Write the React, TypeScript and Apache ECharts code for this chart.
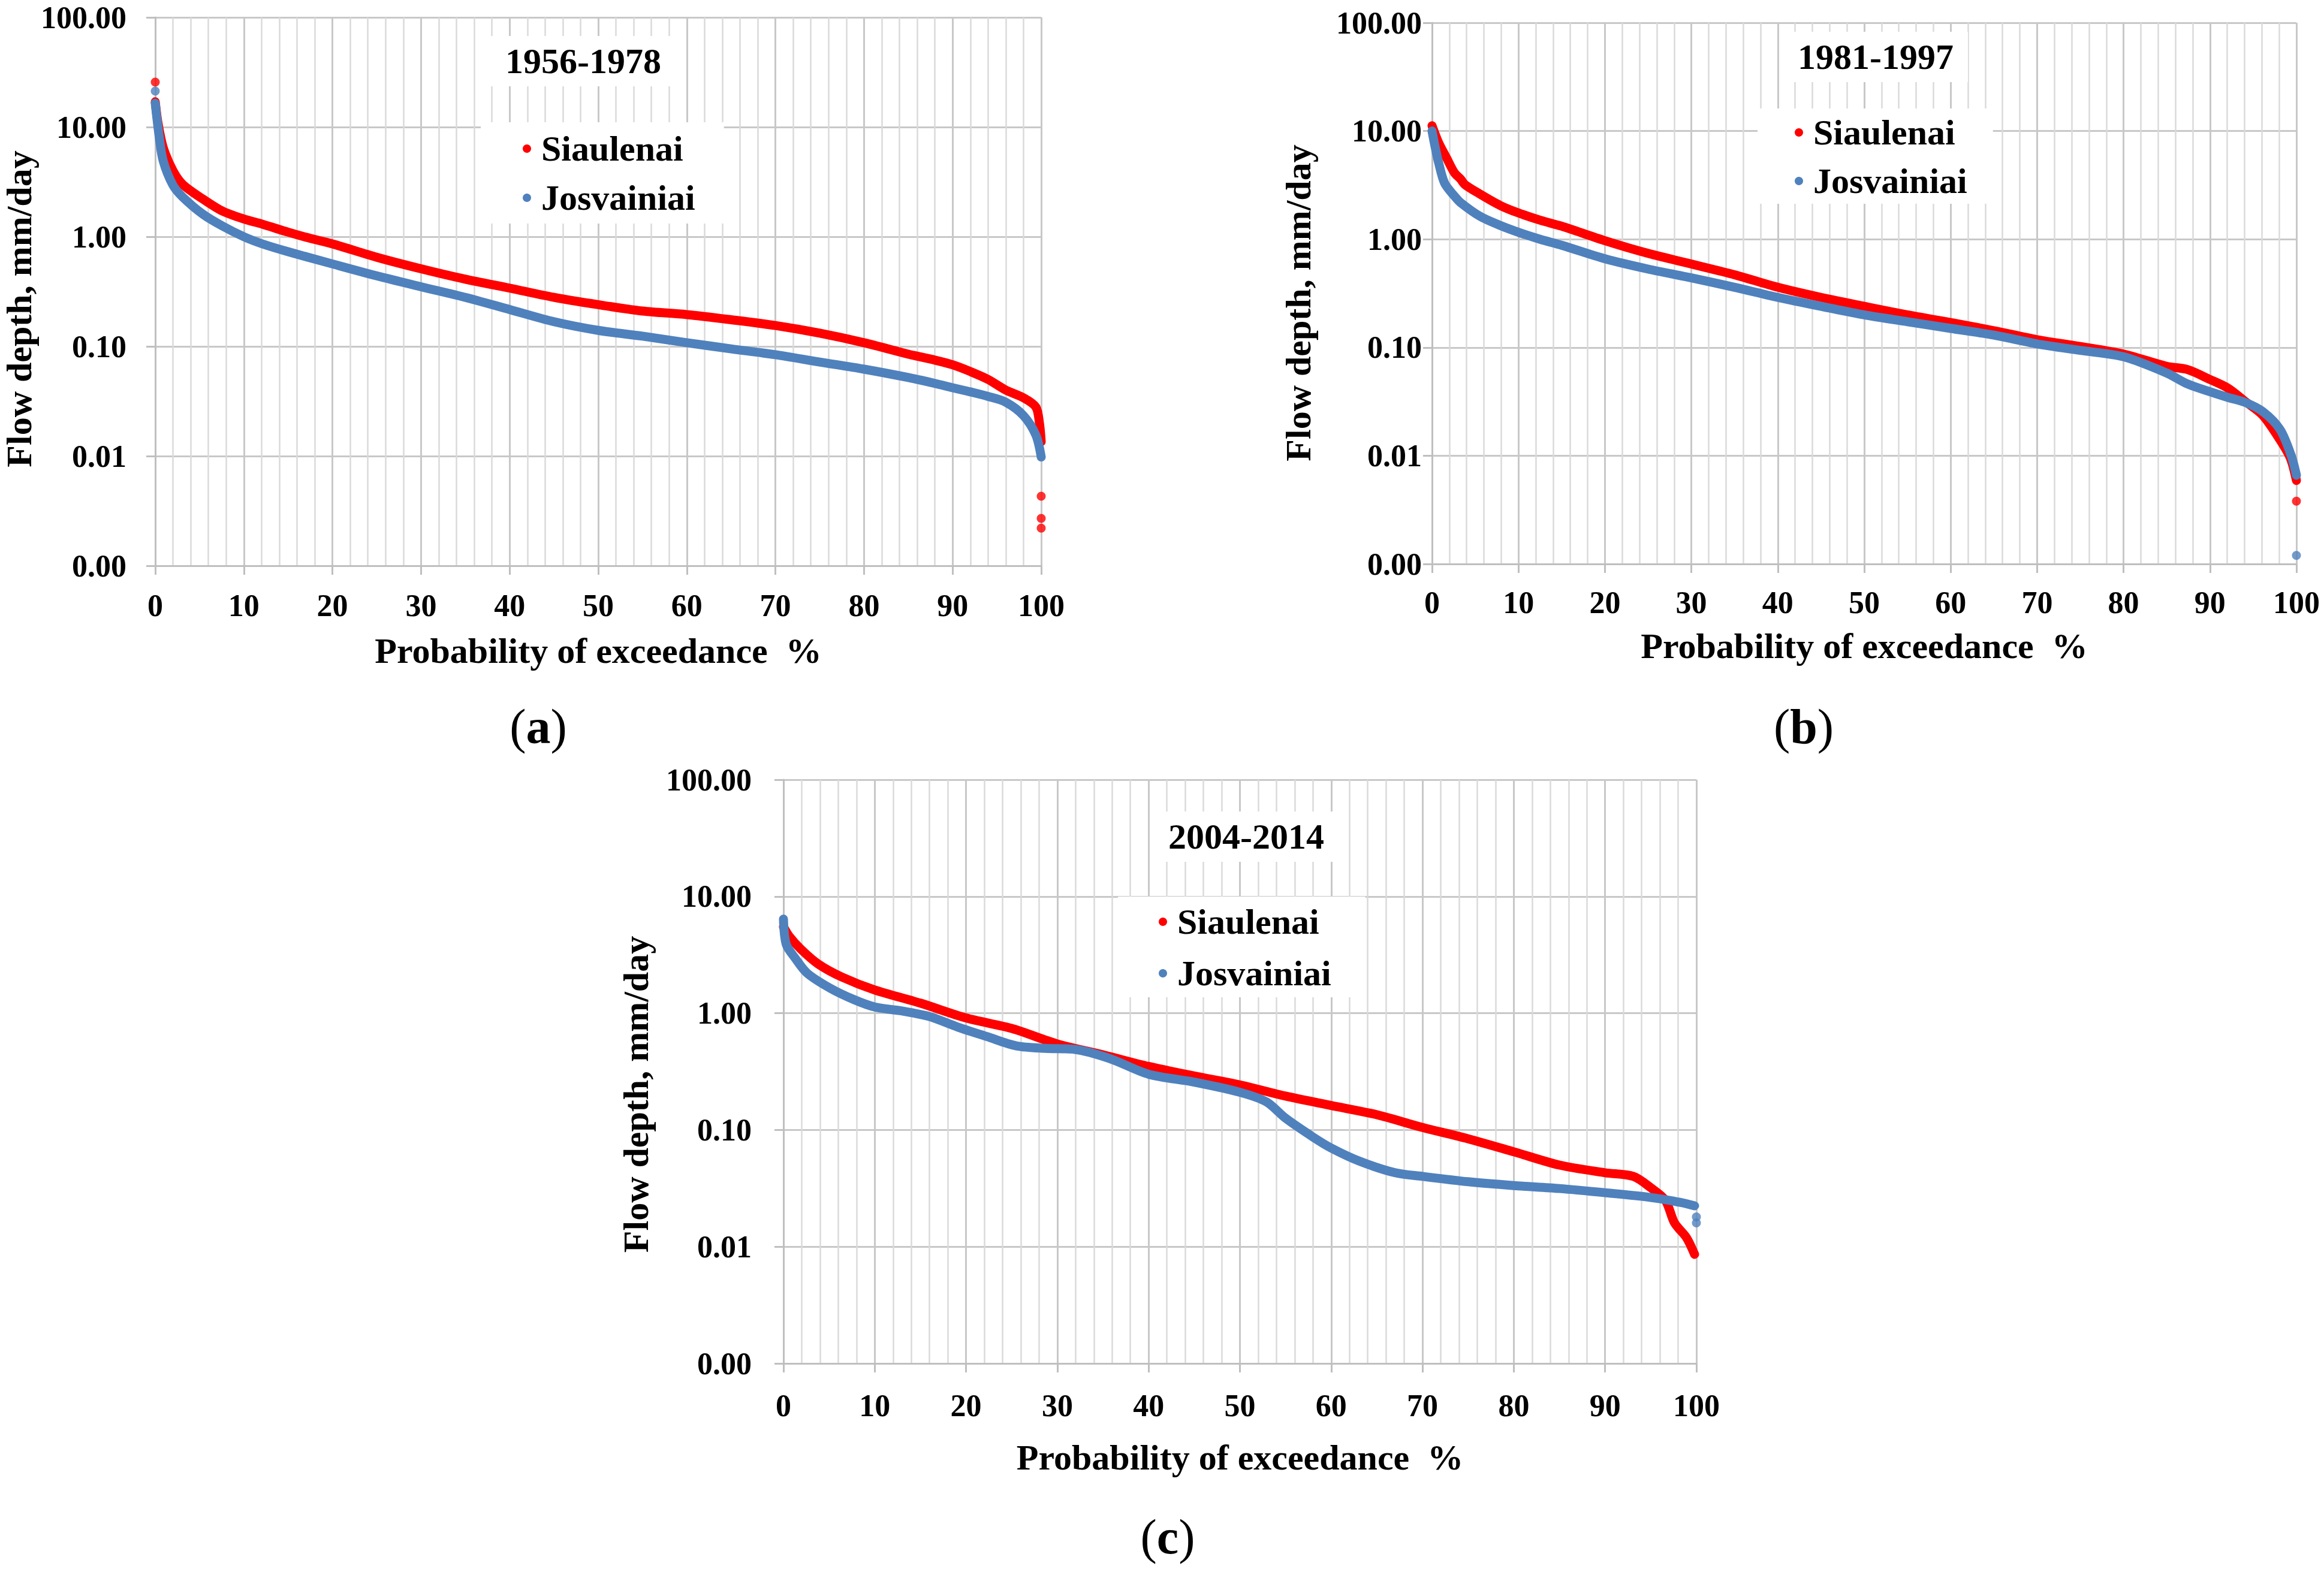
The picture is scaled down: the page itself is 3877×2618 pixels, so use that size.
import React, { useEffect, useRef } from "react";
import * as echarts from "echarts";

const FONT = '"Liberation Serif", "Times New Roman", Times, serif';
const RED = "#ff0000";
const BLUE = "#4f81bd";

const stations = ["Siaulenai", "Josvainiai"];
const periods = ["1956-1978", "1981-1997", "2004-2014"];
const letters = ["a", "b", "c"];
const xAxisName = "Probability of exceedance  %";
const yAxisName = "Flow depth, mm/day";

// ---- (a) 1956-1978 ----
const siaulenai1956: [number, number][] = [
  [0, 17], [0.3, 11], [0.9, 6.5], [2.0, 4.0], [3.1, 3.0], [5.4, 2.2], [7.6, 1.71],
  [10, 1.45], [12.1, 1.3], [15, 1.1], [17, 0.99], [20, 0.86], [25, 0.65], [30, 0.51],
  [35, 0.41], [40, 0.34], [45, 0.28], [50, 0.24], [55, 0.21], [60, 0.195], [65, 0.175],
  [70, 0.155], [75, 0.132], [80, 0.108], [85, 0.085], [88, 0.075], [90, 0.068], [92, 0.059],
  [94, 0.05], [96, 0.04], [98, 0.034], [99.4, 0.028], [99.8, 0.02], [100, 0.0135],
];
const siaulenai1956Dots: [number, number][] = [[0, 25.7], [100, 0.0043], [100, 0.0027], [100, 0.0022]];
const josvainiai1956: [number, number][] = [
  [0, 16.5], [0.45, 8.1], [0.9, 4.9], [2.0, 2.95], [3.1, 2.3], [5.4, 1.6], [7.6, 1.25],
  [10, 1.0], [12.1, 0.86], [15, 0.73], [20, 0.565], [25, 0.44], [30, 0.35], [35, 0.28],
  [40, 0.217], [45, 0.168], [50, 0.14], [55, 0.124], [60, 0.108], [65, 0.095], [70, 0.084],
  [75, 0.072], [80, 0.062], [85, 0.052], [88, 0.046], [90, 0.042], [92, 0.0385], [94, 0.035],
  [96, 0.031], [98, 0.0234], [99.4, 0.0155], [100, 0.0098],
];
const josvainiai1956Dots: [number, number][] = [[0, 21.3]];

// ---- (b) 1981-1997 ----
const siaulenai1981: [number, number][] = [
  [0, 11.2], [0.76, 7.8], [1.7, 5.6], [2.6, 4.1], [3.3, 3.6], [3.8, 3.2], [5.6, 2.6],
  [7.9, 2.05], [10, 1.75], [12.5, 1.5], [15, 1.32], [20, 0.97], [25, 0.74], [30, 0.59],
  [35, 0.47], [40, 0.36], [45, 0.29], [50, 0.24], [55, 0.2], [60, 0.17], [65, 0.143],
  [70, 0.118], [75, 0.102], [80, 0.087], [85, 0.067], [87.4, 0.0625], [90, 0.0506],
  [92.1, 0.042], [94.1, 0.0316], [96.1, 0.0236], [98.1, 0.014], [99.3, 0.0095], [100, 0.0059],
];
const siaulenai1981Dots: [number, number][] = [[100, 0.0038]];
const josvainiai1981: [number, number][] = [
  [0, 10.0], [0.3, 7.5], [0.76, 5.1], [1.45, 3.3], [2.6, 2.5], [3.3, 2.18], [5.6, 1.62],
  [7.9, 1.34], [10, 1.16], [12.5, 1.0], [15, 0.88], [20, 0.66], [25, 0.53], [30, 0.44],
  [35, 0.36], [40, 0.29], [45, 0.24], [50, 0.2], [55, 0.173], [60, 0.15], [65, 0.13],
  [70, 0.108], [75, 0.094], [80, 0.082], [85, 0.058], [87.4, 0.046], [90, 0.039],
  [92.1, 0.0345], [94.1, 0.031], [96.1, 0.0256], [98.1, 0.0175], [99.4, 0.01], [100, 0.0066],
];
const josvainiai1981Dots: [number, number][] = [[100, 0.0012]];

// ---- (c) 2004-2014 ----
const siaulenai2004: [number, number][] = [
  [0, 5.5], [0.6, 4.6], [1.9, 3.54], [3.8, 2.64], [6.4, 2.04], [10, 1.58], [15, 1.22],
  [20, 0.91], [25, 0.74], [30, 0.545], [35, 0.44], [40, 0.35], [45, 0.29], [50, 0.243],
  [55, 0.195], [60, 0.162], [65, 0.135], [70, 0.105], [75, 0.084], [80, 0.065], [85, 0.05],
  [90, 0.043], [93.1, 0.04], [95, 0.032], [96.6, 0.025], [97.6, 0.016], [98.9, 0.012],
  [99.8, 0.0086],
];
const siaulenai2004Dots: [number, number][] = [];
const josvainiai2004: [number, number][] = [
  [0, 6.4], [0.3, 3.9], [1.3, 2.95], [2.6, 2.2], [5.1, 1.64], [7.7, 1.31], [10, 1.13],
  [12.8, 1.05], [15.9, 0.94], [19.1, 0.76], [22.3, 0.63], [25.5, 0.525], [28.7, 0.5],
  [31.9, 0.49], [35.7, 0.41], [40, 0.3], [45, 0.257], [50, 0.21], [52.9, 0.174], [55, 0.126],
  [58, 0.087], [60, 0.07], [63.1, 0.054], [67, 0.043], [70, 0.04], [75, 0.036], [80, 0.0334],
  [85, 0.0315], [90, 0.029], [95, 0.0264], [98.2, 0.024], [99.8, 0.0224],
];
const josvainiai2004Dots: [number, number][] = [[100, 0.018], [100, 0.016]];

const siaulenaiSeries = [siaulenai1956, siaulenai1981, siaulenai2004];
const siaulenaiDots = [siaulenai1956Dots, siaulenai1981Dots, siaulenai2004Dots];
const josvainiaiSeries = [josvainiai1956, josvainiai1981, josvainiai2004];
const josvainiaiDots = [josvainiai1956Dots, josvainiai1981Dots, josvainiai2004Dots];

// layout (pixels)
const layouts = [
  { left: 259, top: 29, width: 1478, height: 915, yNameGap: 197, yNameShift: 58, yLabelMargin: 48,
    xLabelMargin: 40, xNameGap: 112, titleX: 973, titleY: 102, legendLeft: 802, legendTop: 204,
    legendPad: [14, 48, 13, 70], legendGap: 22, letterX: 898, letterY: 1212 },
  { left: 2389, top: 38, width: 1442, height: 903, yNameGap: 193, yNameShift: 32, yLabelMargin: 17,
    xLabelMargin: 38, xNameGap: 107, titleX: 3129, titleY: 95, legendLeft: 2932, legendTop: 181,
    legendPad: [10, 43, 8, 62], legendGap: 21, letterX: 3009, letterY: 1212 },
  { left: 1307, top: 1301, width: 1523, height: 974, yNameGap: 216, yNameShift: 76, yLabelMargin: 53,
    xLabelMargin: 44, xNameGap: 127, titleX: 2079, titleY: 1396, legendLeft: 1865, legendTop: 1496,
    legendPad: [12, 57, 10, 68], legendGap: 26, letterX: 1948, letterY: 2564 },
];

function buildOption() {
  const grid: any[] = [];
  const xAxis: any[] = [];
  const yAxis: any[] = [];
  const legend: any[] = [];
  const series: any[] = [];
  const graphic: any[] = [];
  const axisColor = "#bfbfbf";
  const bold = { fontFamily: FONT, fontWeight: "bold", color: "#000" };

  layouts.forEach((L, i) => {
    grid.push({ left: L.left, top: L.top, width: L.width, height: L.height, show: false });
    xAxis.push({
      type: "value", gridIndex: i, min: 0, max: 100, interval: 10,
      name: xAxisName, nameLocation: "middle", nameGap: L.xNameGap,
      nameTextStyle: { ...bold, fontSize: 60 },
      axisLine: { show: true, lineStyle: { color: axisColor, width: 3 } },
      axisTick: { show: true, length: 15, lineStyle: { color: axisColor, width: 3 } },
      axisLabel: { ...bold, fontSize: 52, margin: L.xLabelMargin },
      splitLine: { show: true, lineStyle: { color: "#c8c8c8", width: 3 } },
      minorTick: { show: false, splitNumber: 5 },
      minorSplitLine: { show: true, lineStyle: { color: "#dadada", width: 2.5 } },
    });
    yAxis.push({
      type: "log", logBase: 10, gridIndex: i, min: 0.001, max: 100,
      name: yAxisName, nameLocation: "middle", nameGap: L.yNameGap, nameRotate: 90,
      nameTextStyle: { ...bold, fontSize: 60, padding: [0, L.yNameShift, 0, 0] },
      axisLine: { show: true, lineStyle: { color: axisColor, width: 3 } },
      axisTick: { show: true, length: 15, lineStyle: { color: axisColor, width: 3 } },
      axisLabel: { ...bold, fontSize: 52, margin: L.yLabelMargin, formatter: (v: number) => Number(v).toFixed(2) },
      splitLine: { show: true, lineStyle: { color: "#c8c8c8", width: 3 } },
    });
    legend.push({
      orient: "vertical", left: L.legendLeft, top: L.legendTop, padding: L.legendPad,
      itemGap: L.legendGap, itemWidth: 14, itemHeight: 14, backgroundColor: "#fff",
      selectedMode: false, z: 10,
      data: stations.map((n) => ({ name: n, icon: "circle" })),
      textStyle: { ...bold, fontSize: 60, lineHeight: 60, padding: [0, 0, 0, 12] },
    });
    series.push({
      type: "line", name: stations[0], xAxisIndex: i, yAxisIndex: i, data: siaulenaiSeries[i],
      showSymbol: false, smooth: 0.3, silent: true, z: 3,
      lineStyle: { color: RED, width: 15, cap: "round", join: "round" }, itemStyle: { color: RED },
    });
    series.push({
      type: "scatter", name: stations[0], xAxisIndex: i, yAxisIndex: i, data: siaulenaiDots[i],
      symbolSize: 15, silent: true, z: 3, itemStyle: { color: RED },
    });
    series.push({
      type: "line", name: stations[1], xAxisIndex: i, yAxisIndex: i, data: josvainiaiSeries[i],
      showSymbol: false, smooth: 0.3, silent: true, z: 4,
      lineStyle: { color: BLUE, width: 15, cap: "round", join: "round" }, itemStyle: { color: BLUE },
    });
    series.push({
      type: "scatter", name: stations[1], xAxisIndex: i, yAxisIndex: i, data: josvainiaiDots[i],
      symbolSize: 15, silent: true, z: 4, itemStyle: { color: BLUE },
    });
    graphic.push({
      type: "text", x: L.titleX, y: L.titleY, z: 100,
      style: {
        text: periods[i], fontFamily: FONT, fontSize: 60, fontWeight: "bold", fill: "#000",
        align: "center", verticalAlign: "middle", backgroundColor: "#fff", padding: [12, 24],
      },
    });
    graphic.push({
      type: "text", x: L.letterX, y: L.letterY, z: 100,
      style: {
        text: `{p|(}{b|${letters[i]}}{p|)}`, align: "center", verticalAlign: "middle", fill: "#000",
        rich: {
          p: { fontFamily: FONT, fontSize: 82, fontWeight: "normal", fill: "#000" },
          b: { fontFamily: FONT, fontSize: 82, fontWeight: "bold", fill: "#000" },
        },
      },
    });
  });

  return {
    animation: false,
    backgroundColor: "#fff",
    textStyle: { fontFamily: FONT },
    grid, xAxis, yAxis, legend, series, graphic,
  };
}

export default function App() {
  const ref = useRef<HTMLDivElement>(null);
  useEffect(() => {
    if (!ref.current) return;
    const chart = echarts.init(ref.current, undefined, { renderer: "svg" });
    chart.setOption(buildOption() as any);
    return () => chart.dispose();
  }, []);
  return (
    <div
      ref={ref}
      style={{ position: "absolute", left: 0, top: 0, width: 3877, height: 2618, background: "#fff" }}
    />
  );
}
